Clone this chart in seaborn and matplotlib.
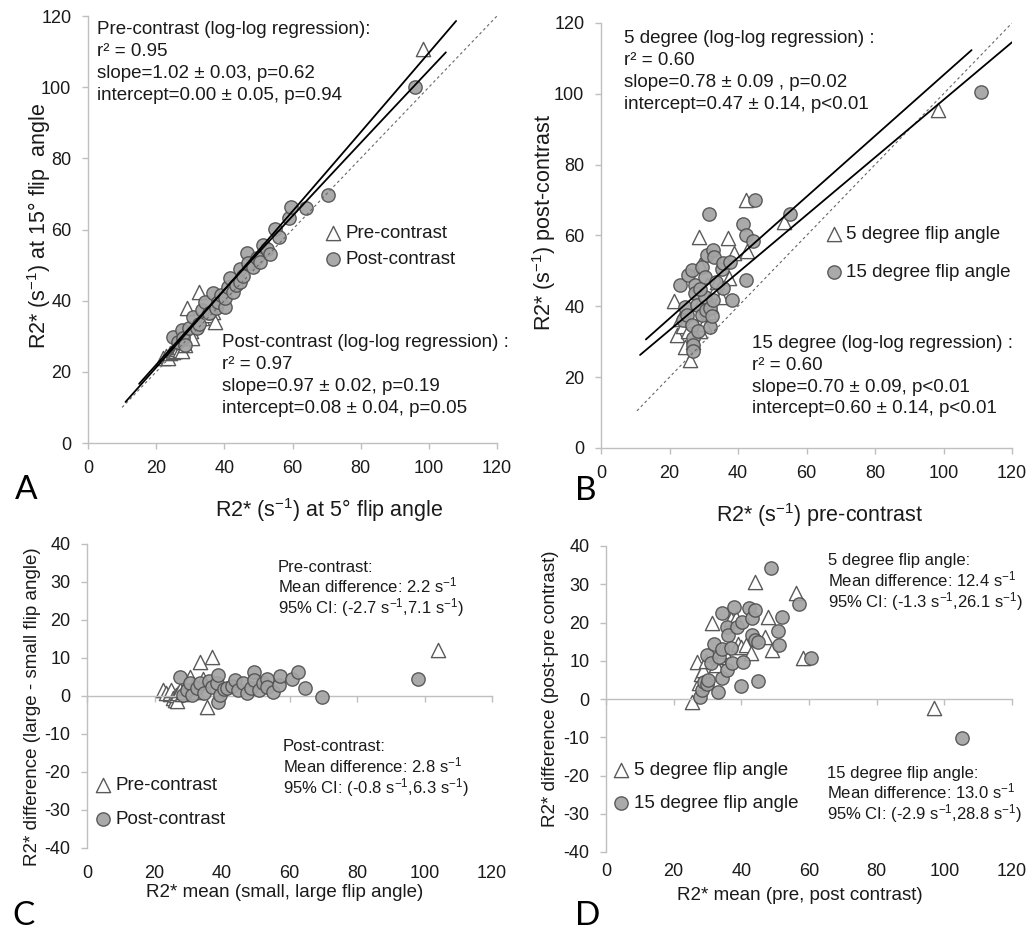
import numpy as np
import matplotlib
matplotlib.use("Agg")
import matplotlib.pyplot as plt
import seaborn as sns

sns.set_style("white")
plt.rcParams['font.family'] = ['Liberation Sans', 'DejaVu Sans']
plt.rcParams['mathtext.default'] = 'regular'
plt.rcParams['axes.unicode_minus'] = False

# ---- panel A : R2* at 5 deg vs 15 deg flip angle
a_pre_x = [22.1, 23.0, 23.5, 24.0, 24.8, 25.0, 25.5, 26.0, 26.2, 26.8, 27.0, 27.5, 28.0,
           28.5, 29.1, 29.5, 30.2, 30.5, 31.0, 32.6, 33.5, 35.0, 36.8, 37.3, 98.2]
a_pre_y = [23.8, 24.5, 24.0, 25.2, 26.0, 25.5, 25.8, 27.0, 26.5, 27.0, 26.0, 25.9, 28.5,
           27.5, 37.9, 30.0, 31.5, 29.5, 33.0, 42.5, 35.0, 36.0, 36.9, 34.1, 110.6]
a_post_x = [25.0, 26.5, 27.5, 28.0, 28.5, 29.5, 30.9, 31.9, 32.5, 33.4, 34.3, 35.5, 36.8, 37.5,
            38.0, 39.0, 40.2, 40.2, 41.2, 41.7, 42.5, 43.5, 44.6, 44.6, 45.5, 46.6, 47.0, 48.5,
            49.5, 50.5, 51.4, 52.4, 53.5, 55.0, 56.1, 59.1, 59.6, 64.0, 70.3, 96.0]
a_post_y = [29.7, 28.5, 31.8, 29.5, 27.5, 32.2, 35.5, 32.2, 33.5, 37.3, 39.7, 36.5, 42.1, 38.0,
            39.5, 41.5, 38.3, 40.7, 43.9, 46.3, 42.5, 44.5, 45.3, 48.8, 47.0, 53.3, 50.5, 49.5,
            51.9, 51.0, 55.6, 54.4, 53.0, 60.1, 58.0, 63.2, 66.2, 66.0, 69.7, 100.1]
# log-log regression: log10(y) = slope*log10(x) + intercept, drawn over x range
a_fit_slope = [1.02, 0.97]
a_fit_intercept = [0.00, 0.08]
a_fit_xrange = [(11, 108), (15, 105)]

# ---- panel B : pre vs post contrast
b5_x = [21.3, 22.1, 23.0, 24.0, 24.5, 25.5, 26.0, 26.5, 27.0, 27.5, 28.7, 28.9, 29.0, 29.5,
        30.0, 31.0, 31.5, 32.0, 33.0, 34.0, 35.0, 37.2, 37.4, 38.9, 42.2, 42.7, 53.4, 98.3]
b5_y = [41.5, 31.9, 36.5, 34.5, 28.6, 33.0, 24.9, 36.0, 30.0, 38.0, 59.7, 51.7, 33.0, 42.0,
        35.0, 46.0, 38.5, 40.0, 44.0, 47.0, 42.5, 59.2, 47.9, 55.0, 70.1, 55.5, 63.9, 95.5]
b15_x = [23.1, 24.0, 24.5, 25.0, 25.5, 26.5, 26.5, 26.9, 26.9, 27.4, 27.4, 27.9, 28.4, 29.4,
         29.4, 30.4, 30.4, 30.8, 30.9, 31.6, 31.8, 31.8, 32.3, 32.6, 32.8, 33.0, 35.2, 35.7,
         35.7, 37.7, 38.2, 41.5, 42.3, 42.3, 44.5, 45.0, 55.2, 111.0, 27.0, 33.5, 29.0]
b15_y = [46.0, 36.2, 39.9, 37.6, 48.9, 50.3, 34.7, 31.0, 29.1, 46.0, 43.7, 40.4, 32.9, 51.2,
         37.6, 48.4, 42.7, 39.0, 54.5, 66.1, 39.5, 34.1, 37.3, 55.9, 41.8, 53.8, 50.5, 52.2,
         45.1, 52.6, 41.8, 63.2, 60.2, 47.5, 58.5, 70.0, 66.0, 100.4, 27.5, 47.0, 45.0]
b_fit_slope = [0.859, 0.813]
b_fit_intercept = [19.4, 17.0]
b_fit_xrange = [(13.1, 108.2), (11.4, 120)]

# ---- panel C : Bland-Altman, flip angle
c_pre_x = [22.6, 23.5, 24.5, 24.6, 25.0, 25.5, 26.0, 26.5, 26.6, 27.0, 27.5, 28.0, 28.5, 29.0,
           30.0, 30.6, 31.5, 32.5, 33.5, 34.5, 35.5, 37.1, 104.0]
c_pre_y = [1.6, 0.8, 0.5, 0.9, 1.5, -0.5, -1.0, 0.3, -1.3, 0.8, 1.5, 0.5, 1.0, 2.0,
           4.0, 5.0, 3.0, 1.0, 9.0, 4.5, -2.8, 10.2, 12.0]
c_post_x = [27.6, 28.4, 29.5, 30.5, 31.0, 32.5, 33.5, 34.8, 36.0, 37.0, 38.4, 38.9, 38.9, 39.4,
            40.5, 41.5, 42.9, 43.9, 44.8, 46.3, 47.5, 48.5, 49.6, 49.6, 51.0, 52.0, 53.2, 53.2,
            55.0, 57.0, 57.2, 60.6, 62.6, 64.6, 69.5, 98.0]
c_post_y = [5.1, 0.3, 1.5, 3.3, 0.3, 2.0, 3.3, 0.8, 4.0, 2.5, 3.4, 5.5, -1.5, 0.3,
            1.8, 2.2, 2.7, 4.2, 1.5, 3.3, 0.8, 2.0, 6.4, 4.2, 1.5, 3.5, 4.6, 2.5,
            1.0, 2.9, 5.3, 4.4, 6.2, 2.0, -0.3, 4.5]

# ---- panel D : Bland-Altman, contrast
d5_x = [25.3, 26.8, 27.4, 28.0, 28.7, 29.5, 31.4, 32.5, 33.5, 35.0, 37.0, 38.5, 38.9, 40.0,
        41.5, 42.8, 44.0, 47.0, 47.8, 49.0, 56.1, 58.2, 97.0]
d5_y = [-0.9, 9.8, 4.2, 6.5, 7.7, 10.0, 19.8, 9.0, 11.0, 12.5, 21.0, 21.3, 14.3, 13.5,
        14.0, 12.1, 30.5, 16.1, 21.5, 12.8, 27.6, 10.8, -2.4]
d15_x = [27.8, 28.3, 29.0, 29.8, 29.8, 30.2, 31.0, 32.0, 33.0, 33.4, 34.2, 34.2, 34.4, 35.7,
         35.7, 36.1, 37.0, 37.2, 37.9, 38.6, 39.9, 40.3, 40.6, 42.3, 43.2, 43.2, 44.0, 44.0,
         45.0, 45.0, 48.7, 50.9, 51.1, 52.1, 57.1, 60.6, 105.3]
d15_y = [0.6, 2.4, 4.5, 4.0, 11.5, 5.0, 9.5, 14.3, 1.9, 11.0, 5.4, 13.0, 22.4, 7.6,
         18.9, 16.7, 13.4, 9.3, 24.1, 18.9, 3.4, 20.2, 9.8, 23.9, 21.1, 16.7, 23.3, 15.5,
         14.8, 4.7, 34.3, 17.9, 14.1, 21.4, 24.9, 10.6, -10.3]

ticks_x = list(range(0, 121, 20))
ticks_sc = list(range(0, 121, 20))
ticks_diff = list(range(-40, 41, 10))

GRAY = '#bfbfbf'
TXT = '#1a1a1a'
tri = dict(marker='^', s=105, color='white', edgecolor='#5a5a5a', linewidth=1.0)
circ = dict(marker='o', s=92, color='#a3a3a3', edgecolor='#505050', linewidth=1.0, alpha=0.92)

W, H = 1031, 933
fig = plt.figure(figsize=(W / 100, H / 100), dpi=100)


def box(l, t, r, b):
    return [l / W, 1 - b / H, (r - l) / W, (b - t) / H]


def style(ax, yticks, ylim):
    ax.set_xlim(0, 120)
    ax.set_ylim(*ylim)
    ax.set_xticks(ticks_x)
    ax.set_yticks(yticks)
    for sp in ['top', 'right']:
        ax.spines[sp].set_visible(False)
    for sp in ['left', 'bottom']:
        ax.spines[sp].set_color(GRAY)
        ax.spines[sp].set_linewidth(1)
    ax.tick_params(bottom=True, left=True, direction='out', length=4, width=1,
                   color=GRAY, labelsize=13, labelcolor=TXT, pad=8)


def legend(ax, labels_xy, spacing, size=13.5):
    ax.legend(loc='upper left', bbox_to_anchor=labels_xy, bbox_transform=ax.transData,
              frameon=False, fontsize=size, handlelength=0.6, handletextpad=0.35,
              borderpad=0, borderaxespad=0, labelspacing=spacing, labelcolor=TXT)


# ---------------- A
axA = fig.add_axes(box(88, 16, 497, 443))
sns.scatterplot(x=a_pre_x, y=a_pre_y, ax=axA, label='Pre-contrast', zorder=2, **tri)
sns.scatterplot(x=a_post_x, y=a_post_y, ax=axA, label='Post-contrast', zorder=3, **circ)
axA.plot([10, 120], [10, 120], ls=(0, (2.5, 2.5)), color='#666666', lw=0.8, zorder=4)
for sl, ic, (x0, x1) in zip(a_fit_slope, a_fit_intercept, a_fit_xrange):
    xs = np.linspace(x0, x1, 50)
    axA.plot(xs, 10 ** (sl * np.log10(xs) + ic), color='black', lw=1.3, zorder=5)
style(axA, ticks_sc, (0, 120))
axA.set_xlabel('R2* (s$^{-1}$) at 5° flip angle', fontsize=15.5, color=TXT)
axA.set_ylabel('R2* (s$^{-1}$) at 15° flip  angle', fontsize=15.5, color=TXT)
axA.xaxis.set_label_coords(0.59, -0.124)
axA.yaxis.set_label_coords(-0.086, 0.508)
axA.text(2.6, 118.6, 'Pre-contrast (log-log regression):\nr² = 0.95\n'
         'slope=1.02 ± 0.03, p=0.62\nintercept=0.00 ± 0.05, p=0.94',
         fontsize=13.5, color=TXT, va='top', ha='left', linespacing=1.38)
axA.text(39.3, 30.6, 'Post-contrast (log-log regression) :\nr² = 0.97\n'
         'slope=0.97 ± 0.02, p=0.19\nintercept=0.08 ± 0.04, p=0.05',
         fontsize=13.5, color=TXT, va='top', ha='left', linespacing=1.38)
legend(axA, (70.3, 61.4), 0.5)

# ---------------- B
axB = fig.add_axes(box(601, 23, 1012, 448))
sns.scatterplot(x=b5_x, y=b5_y, ax=axB, label='5 degree flip angle', zorder=2, **tri)
sns.scatterplot(x=b15_x, y=b15_y, ax=axB, label='15 degree flip angle', zorder=3, **circ)
axB.plot([10.5, 120], [10.5, 120], ls=(0, (2.5, 2.5)), color='#666666', lw=0.8, zorder=4)
for sl, ic, (x0, x1) in zip(b_fit_slope, b_fit_intercept, b_fit_xrange):
    xs = np.array([x0, x1])
    axB.plot(xs, sl * xs + ic, color='black', lw=1.3, zorder=5)
style(axB, ticks_sc, (0, 120))
axB.set_xlabel('R2* (s$^{-1}$) pre-contrast', fontsize=15.5, color=TXT)
axB.set_ylabel('R2* (s$^{-1}$) post-contrast', fontsize=15.5, color=TXT)
axB.xaxis.set_label_coords(0.533, -0.124)
axB.yaxis.set_label_coords(-0.105, 0.53)
axB.text(6.7, 118.0, '5 degree (log-log regression) :\nr² = 0.60\n'
         'slope=0.78 ± 0.09 , p=0.02\nintercept=0.47 ± 0.14, p<0.01',
         fontsize=13.5, color=TXT, va='top', ha='left', linespacing=1.38)
axB.text(44.1, 32.0, '15 degree (log-log regression) :\nr² = 0.60\n'
         'slope=0.70 ± 0.09, p<0.01\nintercept=0.60 ± 0.14, p<0.01',
         fontsize=13.5, color=TXT, va='top', ha='left', linespacing=1.38)
legend(axB, (66.3, 62.8), 1.15)


def zero_axis(ax, xlabel, ylabel, xl, yl, pad):
    style(ax, ticks_diff, (-40, 40))
    ax.spines['bottom'].set_position(('data', 0))
    ax.tick_params(axis='x', labelbottom=False)
    sec = ax.secondary_xaxis('bottom')
    sec.set_xticks(ticks_x)
    sec.tick_params(length=0, labelsize=13, labelcolor=TXT, pad=pad)
    sec.spines['bottom'].set_visible(False)
    ax.set_xlabel(xlabel, fontsize=13.5, color=TXT)
    ax.set_ylabel(ylabel, fontsize=13.5, color=TXT)
    ax.xaxis.set_label_coords(*xl)
    ax.yaxis.set_label_coords(*yl)


# ---------------- C
axC = fig.add_axes(box(87, 544, 492, 848))
sns.scatterplot(x=c_pre_x, y=c_pre_y, ax=axC, label='Pre-contrast', zorder=2, **tri)
sns.scatterplot(x=c_post_x, y=c_post_y, ax=axC, label='Post-contrast', zorder=3, **circ)
zero_axis(axC, 'R2* mean (small, large flip angle)', 'R2* difference (large - small flip angle)',
          (0.489, -0.12), (-0.114, 0.464), 12)
axC.text(56.6, 35.9, 'Pre-contrast:\nMean difference: 2.2 s$^{-1}$\n95% CI: (-2.7 s$^{-1}$,7.1 s$^{-1}$)',
         fontsize=12, color=TXT, va='top', ha='left', linespacing=1.05)
axC.text(58.1, -11.4, 'Post-contrast:\nMean difference: 2.8 s$^{-1}$\n95% CI: (-0.8 s$^{-1}$,6.3 s$^{-1}$)',
         fontsize=12, color=TXT, va='top', ha='left', linespacing=1.05)
legend(axC, (3.2, -21.3), 0.9)

# ---------------- D
axD = fig.add_axes(box(606, 546, 1012, 852))
sns.scatterplot(x=d5_x, y=d5_y, ax=axD, label='5 degree flip angle', zorder=2, **tri)
sns.scatterplot(x=d15_x, y=d15_y, ax=axD, label='15 degree flip angle', zorder=3, **circ)
zero_axis(axD, 'R2* mean (pre, post contrast)', 'R2* difference (post-pre contrast)',
          (0.478, -0.115), (-0.116, 0.533), 8)
axD.text(65.6, 38.1, '5 degree flip angle:\nMean difference: 12.4 s$^{-1}$\n95% CI: (-1.3 s$^{-1}$,26.1 s$^{-1}$)',
         fontsize=12, color=TXT, va='top', ha='left', linespacing=1.05)
axD.text(65.3, -17.4, '15 degree flip angle:\nMean difference: 13.0 s$^{-1}$\n95% CI: (-2.9 s$^{-1}$,28.8 s$^{-1}$)',
         fontsize=12, color=TXT, va='top', ha='left', linespacing=1.05)
legend(axD, (2.9, -16.5), 0.85)

# panel letters
for letter, (px, py) in zip('ABCD', [(15, 499), (575, 500), (12, 925), (575, 925)]):
    fig.text(px / W, 1 - py / H, letter, fontsize=24, family=['Lato', 'DejaVu Sans'],
             color='black', ha='left', va='baseline')

fig.savefig('out.png', dpi=100)
